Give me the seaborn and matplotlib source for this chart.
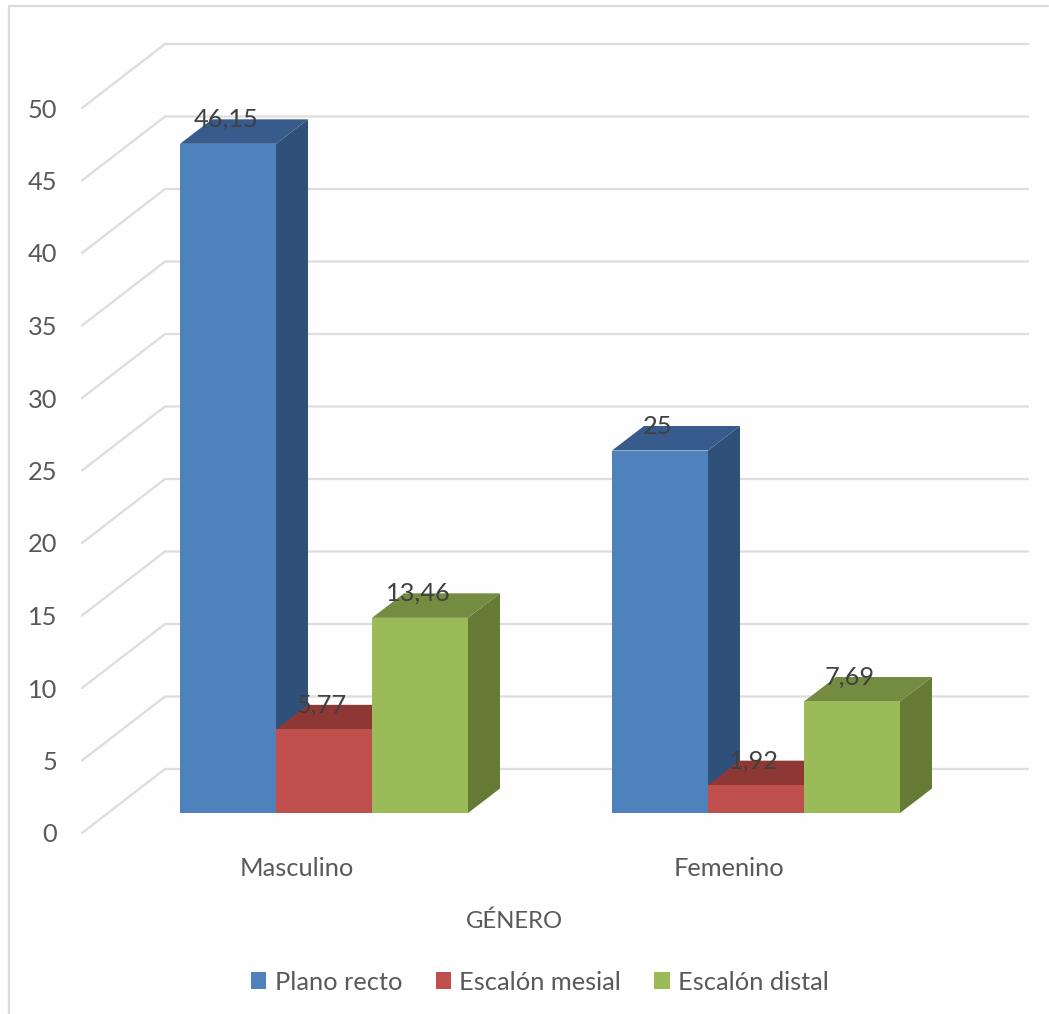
import matplotlib
matplotlib.use("Agg")
import matplotlib.pyplot as plt
import matplotlib.transforms as mtrans
from matplotlib.lines import Line2D
from matplotlib.patches import Polygon, Rectangle
import pandas as pd
import seaborn as sns

# Survey results: percentage of each terminal plane type by gender
generos = ["Masculino", "Femenino"]
tipos = ["Plano recto", "Escalón mesial", "Escalón distal"]
plano_recto = [46.15, 25]
escalon_mesial = [5.77, 1.92]
escalon_distal = [13.46, 7.69]
yticks = [0, 5, 10, 15, 20, 25, 30, 35, 40, 45, 50]

frente = ["#4F81BD", "#C0504D", "#9BBB59"]
lateral = ["#2F5179", "#8A3735", "#657A35"]
techo = ["#365B8C", "#8E3836", "#748C42"]
GRID = "#DEDEDE"
TEXTO = "#595959"
ETIQUETA = "#404040"
FS = 18.3

W, H = 1049, 1014
PX_X = 432.0   # pixels per category
PX_Y = 14.5    # pixels per percentage unit
AX_L, AX_R, AX_B, AX_T = 82, 1030, 813, 88


def dx(px):
    return px / PX_X


def dy(px):
    return px / PX_Y


sns.set_theme(style="white")
plt.rcParams["font.family"] = ["Lato", "DejaVu Sans"]

df = pd.DataFrame({
    "genero": generos * 3,
    "tipo": [t for t in tipos for _ in generos],
    "valor": plano_recto + escalon_mesial + escalon_distal,
})

fig = plt.figure(figsize=(W / 100, H / 100), dpi=100)
ax = fig.add_axes([AX_L / W, 1 - AX_B / H, (AX_R - AX_L) / W, (AX_B - AX_T) / H])
ax.patch.set_alpha(0)

sns.barplot(
    data=df, x="genero", y="valor", hue="tipo", order=generos, hue_order=tipos,
    palette=frente, width=2 / 3, gap=0, saturation=1, ax=ax, linewidth=0,
    errorbar=None,
)

x0 = (AX_L - 324) / PX_X
x1 = (AX_R - 324) / PX_X
ax.set_xlim(x0, x1)
ax.set_ylim(0, 50)
sns.despine(ax=ax, left=True, bottom=True)

# Chart frame and the faint plot-area tint
fig.add_artist(Rectangle((78 / W, 1 - 855 / H), 957 / W, 819 / H,
                         transform=fig.transFigure, fc="#FEFEFE", ec="none", zorder=-5))
fig.add_artist(Line2D([9 / W, 9 / W], [0, 1 - 6 / H], color="#DADADA", lw=1.6))
fig.add_artist(Line2D([9 / W, 1048 / W], [1 - 6 / H, 1 - 6 / H], color="#DADADA", lw=1.6))

# Receding wall: back gridlines plus the diagonal towards the front edge
wall_left = x0 + dx(83)
for v in yticks:
    y_front = v - dy(20)
    y_back = v + dy(44)
    ax.plot([x0, wall_left, x1 - dx(2)], [y_front, y_back, y_back], color=GRID,
            lw=1.7, zorder=0.5, clip_on=False, solid_joinstyle="miter")

# Extrude every bar with a top and a side face
prof_x, prof_y = dx(32), dy(24.5)
for i, cont in enumerate(ax.containers):
    for bar, valor in zip(cont, [plano_recto, escalon_mesial, escalon_distal][i]):
        xa, xb = bar.get_x(), bar.get_x() + bar.get_width()
        h = bar.get_height()
        z = 2 + i
        bar.set_zorder(z + 0.2)
        ax.add_patch(Polygon([(xb, 0), (xb + prof_x, prof_y), (xb + prof_x, h + prof_y), (xb, h)],
                             fc=lateral[i], ec="none", zorder=z, clip_on=False))
        ax.add_patch(Polygon([(xa, h), (xa + prof_x, h + prof_y), (xb + prof_x, h + prof_y), (xb, h)],
                             fc=techo[i], ec="none", zorder=z + 0.1, clip_on=False))
        ax.text((xa + xb) / 2 - dx(2), h + prof_y, str(valor).replace(".", ","),
                ha="center", va="center", fontsize=FS, color=ETIQUETA, zorder=10)

# Tick labels sit on the front edge of the wall, not on the bar plane
ax.set_yticks(yticks)
ax.set_yticklabels([str(v) for v in yticks], fontsize=FS, color=TEXTO)
ax.tick_params(axis="y", length=0, pad=18)
shift_y = mtrans.ScaledTranslation(0, -20 / 100, fig.dpi_scale_trans)
for lab in ax.get_yticklabels():
    lab.set_transform(lab.get_transform() + shift_y)

ax.set_xticks(range(len(generos)))
ax.set_xticklabels(generos, fontsize=FS, color=TEXTO)
ax.tick_params(axis="x", length=0, pad=32)
shift_x = mtrans.ScaledTranslation(-27 / 100, 0, fig.dpi_scale_trans)
for lab in ax.get_xticklabels():
    lab.set_transform(lab.get_transform() + shift_x)

ax.set_ylabel("")
ax.set_xlabel("GÉNERO", fontsize=17.2, color=TEXTO)
ax.xaxis.set_label_coords((514 - AX_L) / (AX_R - AX_L), (AX_B - 921) / (AX_B - AX_T))
ax.xaxis.label.set_verticalalignment("center")

handles, labels = ax.get_legend_handles_labels()
ax.legend(handles, labels, ncol=3, frameon=False, loc="center",
          bbox_to_anchor=(540 / W, 1 - 982 / H), bbox_transform=fig.transFigure,
          fontsize=FS, labelcolor=TEXTO, handlelength=0.6, handleheight=0.6,
          handletextpad=0.33, columnspacing=1.31, borderpad=0, borderaxespad=0)

fig.savefig("out.png", dpi=100, facecolor="white")
